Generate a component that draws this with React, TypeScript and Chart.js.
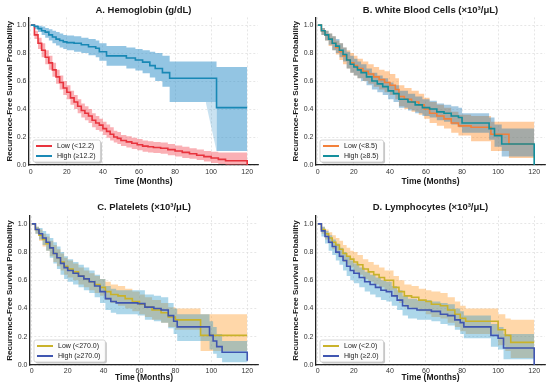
import React, { useEffect, useRef } from 'react';
import { Chart, registerables } from 'chart.js';
Chart.register(...registerables);

const FONT = '"Liberation Sans", Arial, Helvetica, sans-serif';

const xTicks = [0, 20, 40, 60, 80, 100, 120];
const yTicks = [0, 0.2, 0.4, 0.6, 0.8, 1.0];

// ---------- A. Hemoglobin ----------
const hgbLowTime = [0, 2, 4, 6, 8, 10, 12, 14, 16, 18, 20, 22, 24, 26, 28, 30, 32, 34, 36, 38, 40, 42, 44, 46, 48, 50, 53, 56, 59, 62, 65, 68, 72, 76, 80, 84, 88, 92, 96, 100, 104, 108, 120];
const hgbLowSurv = [1.0, 0.93, 0.87, 0.82, 0.77, 0.73, 0.68, 0.63, 0.59, 0.55, 0.52, 0.48, 0.45, 0.42, 0.39, 0.37, 0.35, 0.32, 0.30, 0.285, 0.26, 0.24, 0.22, 0.20, 0.19, 0.175, 0.165, 0.155, 0.145, 0.135, 0.13, 0.125, 0.12, 0.11, 0.10, 0.09, 0.08, 0.07, 0.06, 0.05, 0.04, 0.03, 0.0];
const hgbLowUpper = [1.0, 0.96, 0.91, 0.87, 0.82, 0.78, 0.73, 0.68, 0.64, 0.60, 0.57, 0.53, 0.50, 0.47, 0.44, 0.42, 0.40, 0.37, 0.35, 0.33, 0.31, 0.29, 0.27, 0.245, 0.235, 0.215, 0.205, 0.195, 0.185, 0.175, 0.17, 0.165, 0.16, 0.15, 0.14, 0.13, 0.12, 0.11, 0.10, 0.095, 0.09, 0.09, 0.09];
const hgbLowLower = [1.0, 0.90, 0.83, 0.77, 0.72, 0.68, 0.63, 0.58, 0.54, 0.50, 0.47, 0.43, 0.40, 0.37, 0.34, 0.32, 0.30, 0.27, 0.25, 0.24, 0.215, 0.195, 0.175, 0.16, 0.15, 0.135, 0.125, 0.115, 0.105, 0.095, 0.09, 0.085, 0.08, 0.07, 0.06, 0.05, 0.045, 0.035, 0.025, 0.015, 0.008, 0.0, 0.0];

const hgbHighTime = [0, 2, 4, 6, 8, 10, 12, 14, 16, 18, 20, 24, 28, 32, 36, 38, 42, 53, 58, 62, 66, 69, 73, 77, 103, 120];
const hgbHighSurv = [1.0, 0.99, 0.975, 0.96, 0.95, 0.93, 0.915, 0.90, 0.89, 0.88, 0.875, 0.87, 0.86, 0.845, 0.835, 0.81, 0.78, 0.765, 0.75, 0.735, 0.71, 0.69, 0.66, 0.62, 0.41, 0.41];
const hgbHighUpper = [1.0, 1.0, 0.995, 0.99, 0.98, 0.97, 0.96, 0.95, 0.94, 0.93, 0.925, 0.92, 0.91, 0.90, 0.89, 0.87, 0.85, 0.84, 0.83, 0.82, 0.81, 0.80, 0.78, 0.74, 0.70, 0.70];
const hgbHighLower = [1.0, 0.97, 0.95, 0.93, 0.91, 0.89, 0.87, 0.855, 0.84, 0.83, 0.82, 0.81, 0.80, 0.785, 0.77, 0.745, 0.71, 0.69, 0.675, 0.655, 0.625, 0.60, 0.56, 0.45, 0.10, 0.10];
const hgbHighWedgeTime = [97, 103];
const hgbHighWedgeTop = [0.45, 0.45];
const hgbHighWedgeBottom = [0.45, 0.10];

// ---------- B. White Blood Cells ----------
const wbcLowTime = [0, 2, 4, 6, 8, 10, 12, 14, 16, 18, 20, 22, 25, 28, 31, 34, 37, 40, 43, 45, 48, 52, 56, 59, 62, 66, 70, 74, 78, 85, 96, 106, 120];
const wbcLowSurv = [1.0, 0.96, 0.93, 0.90, 0.87, 0.84, 0.81, 0.78, 0.75, 0.73, 0.71, 0.69, 0.67, 0.65, 0.63, 0.61, 0.59, 0.57, 0.54, 0.49, 0.47, 0.45, 0.43, 0.40, 0.37, 0.35, 0.33, 0.30, 0.28, 0.27, 0.22, 0.15, 0.15];
const wbcLowUpper = [1.0, 0.98, 0.96, 0.94, 0.92, 0.89, 0.87, 0.84, 0.82, 0.80, 0.78, 0.76, 0.74, 0.72, 0.70, 0.68, 0.67, 0.65, 0.62, 0.57, 0.55, 0.53, 0.51, 0.48, 0.45, 0.43, 0.41, 0.38, 0.36, 0.35, 0.31, 0.31, 0.31];
const wbcLowLower = [1.0, 0.93, 0.89, 0.85, 0.82, 0.79, 0.75, 0.72, 0.69, 0.66, 0.64, 0.62, 0.60, 0.58, 0.56, 0.54, 0.52, 0.50, 0.47, 0.42, 0.40, 0.38, 0.36, 0.33, 0.30, 0.28, 0.26, 0.23, 0.21, 0.17, 0.10, 0.05, 0.05];

const wbcHighTime = [0, 2, 4, 6, 8, 10, 12, 14, 16, 18, 20, 22, 24, 27, 30, 33, 36, 39, 42, 45, 50, 54, 58, 62, 66, 70, 74, 78, 80, 95, 98, 102, 120];
const wbcHighSurv = [1.0, 0.96, 0.93, 0.90, 0.87, 0.85, 0.82, 0.79, 0.75, 0.72, 0.70, 0.68, 0.66, 0.63, 0.60, 0.58, 0.56, 0.53, 0.51, 0.47, 0.45, 0.43, 0.41, 0.40, 0.38, 0.37, 0.35, 0.34, 0.30, 0.26, 0.21, 0.15, 0.0];
const wbcHighUpper = [1.0, 0.98, 0.96, 0.94, 0.92, 0.90, 0.87, 0.84, 0.81, 0.78, 0.76, 0.74, 0.72, 0.69, 0.66, 0.64, 0.62, 0.59, 0.57, 0.53, 0.51, 0.49, 0.47, 0.46, 0.44, 0.43, 0.42, 0.41, 0.37, 0.34, 0.29, 0.26, 0.26];
const wbcHighLower = [1.0, 0.93, 0.89, 0.86, 0.82, 0.80, 0.77, 0.74, 0.69, 0.66, 0.64, 0.62, 0.60, 0.57, 0.54, 0.52, 0.50, 0.47, 0.45, 0.41, 0.39, 0.37, 0.35, 0.34, 0.32, 0.31, 0.29, 0.27, 0.23, 0.18, 0.13, 0.06, 0.0];

// ---------- C. Platelets ----------
const pltLowTime = [0, 2, 4, 6, 8, 10, 12, 14, 16, 18, 20, 23, 26, 29, 32, 35, 38, 41, 44, 48, 52, 56, 60, 63, 67, 72, 76, 80, 94, 120];
const pltLowSurv = [1.0, 0.96, 0.92, 0.89, 0.86, 0.83, 0.79, 0.76, 0.73, 0.70, 0.68, 0.66, 0.63, 0.61, 0.59, 0.57, 0.55, 0.52, 0.50, 0.49, 0.47, 0.45, 0.43, 0.41, 0.39, 0.37, 0.34, 0.32, 0.21, 0.21];
const pltLowUpper = [1.0, 0.98, 0.96, 0.93, 0.91, 0.88, 0.85, 0.82, 0.79, 0.76, 0.74, 0.72, 0.69, 0.67, 0.65, 0.63, 0.61, 0.59, 0.57, 0.56, 0.54, 0.52, 0.50, 0.48, 0.46, 0.44, 0.41, 0.40, 0.36, 0.36];
const pltLowLower = [1.0, 0.93, 0.88, 0.84, 0.81, 0.77, 0.73, 0.70, 0.67, 0.64, 0.62, 0.60, 0.57, 0.55, 0.53, 0.51, 0.49, 0.46, 0.44, 0.42, 0.40, 0.38, 0.36, 0.34, 0.32, 0.30, 0.27, 0.25, 0.10, 0.07];

const pltHighTime = [0, 2, 4, 6, 8, 10, 12, 14, 16, 18, 20, 23, 26, 29, 32, 35, 38, 41, 44, 47, 59, 63, 68, 72, 76, 79, 81, 99, 101, 103, 106, 120];
const pltHighSurv = [1.0, 0.96, 0.93, 0.90, 0.87, 0.83, 0.79, 0.76, 0.72, 0.69, 0.67, 0.65, 0.63, 0.61, 0.59, 0.56, 0.52, 0.47, 0.45, 0.44, 0.435, 0.41, 0.40, 0.39, 0.35, 0.31, 0.27, 0.21, 0.17, 0.13, 0.09, 0.03];
const pltHighUpper = [1.0, 0.98, 0.97, 0.95, 0.93, 0.90, 0.87, 0.84, 0.80, 0.77, 0.75, 0.73, 0.71, 0.69, 0.67, 0.64, 0.61, 0.56, 0.54, 0.53, 0.53, 0.50, 0.49, 0.48, 0.44, 0.40, 0.36, 0.31, 0.27, 0.22, 0.17, 0.09];
const pltHighLower = [1.0, 0.93, 0.89, 0.85, 0.81, 0.76, 0.72, 0.68, 0.64, 0.61, 0.59, 0.57, 0.55, 0.53, 0.51, 0.48, 0.44, 0.39, 0.37, 0.36, 0.35, 0.32, 0.31, 0.30, 0.26, 0.22, 0.17, 0.11, 0.08, 0.05, 0.02, 0.0];

// ---------- D. Lymphocytes ----------
const lymLowTime = [0, 2, 4, 6, 8, 10, 12, 14, 16, 18, 20, 22, 25, 28, 31, 34, 37, 42, 45, 48, 52, 56, 60, 63, 68, 72, 76, 79, 82, 100, 104, 107, 120];
const lymLowSurv = [1.0, 0.96, 0.93, 0.90, 0.87, 0.85, 0.82, 0.79, 0.77, 0.75, 0.73, 0.71, 0.68, 0.66, 0.64, 0.62, 0.60, 0.55, 0.52, 0.49, 0.48, 0.46, 0.45, 0.43, 0.42, 0.39, 0.36, 0.33, 0.31, 0.25, 0.21, 0.16, 0.16];
const lymLowUpper = [1.0, 0.98, 0.96, 0.94, 0.92, 0.90, 0.88, 0.85, 0.83, 0.81, 0.80, 0.78, 0.75, 0.73, 0.71, 0.69, 0.67, 0.63, 0.60, 0.57, 0.56, 0.54, 0.53, 0.52, 0.51, 0.48, 0.45, 0.42, 0.40, 0.36, 0.33, 0.32, 0.32];
const lymLowLower = [1.0, 0.93, 0.89, 0.86, 0.82, 0.79, 0.76, 0.73, 0.71, 0.69, 0.66, 0.64, 0.61, 0.59, 0.57, 0.55, 0.53, 0.48, 0.44, 0.41, 0.40, 0.38, 0.36, 0.34, 0.33, 0.30, 0.27, 0.24, 0.22, 0.14, 0.10, 0.05, 0.05];

const lymHighTime = [0, 2, 4, 6, 8, 10, 12, 14, 16, 18, 20, 23, 26, 29, 32, 35, 38, 41, 44, 47, 50, 55, 63, 68, 72, 76, 79, 81, 96, 100, 103, 120];
const lymHighSurv = [1.0, 0.95, 0.91, 0.87, 0.84, 0.80, 0.77, 0.74, 0.70, 0.67, 0.65, 0.62, 0.59, 0.57, 0.55, 0.53, 0.52, 0.49, 0.46, 0.42, 0.40, 0.39, 0.38, 0.36, 0.35, 0.32, 0.30, 0.27, 0.21, 0.19, 0.12, 0.0];
const lymHighUpper = [1.0, 0.98, 0.95, 0.92, 0.89, 0.86, 0.83, 0.80, 0.77, 0.74, 0.72, 0.69, 0.66, 0.64, 0.62, 0.60, 0.59, 0.56, 0.53, 0.49, 0.47, 0.46, 0.45, 0.44, 0.43, 0.40, 0.38, 0.35, 0.29, 0.27, 0.22, 0.22];
const lymHighLower = [1.0, 0.91, 0.86, 0.81, 0.78, 0.74, 0.71, 0.67, 0.63, 0.60, 0.58, 0.55, 0.52, 0.50, 0.48, 0.46, 0.45, 0.42, 0.39, 0.35, 0.33, 0.32, 0.31, 0.29, 0.28, 0.25, 0.22, 0.19, 0.13, 0.11, 0.04, 0.0];

type Curve = { label: string; time: number[]; surv: number[]; upper: number[]; lower: number[]; line: string; band: string };
type Wedge = { time: number[]; top: number[]; bottom: number[]; color: string };
type Box = { left: number; top: number; w: number; h: number; yW: number; xH: number; padRight: number; titleTop: number; titleBottom: number; yTitlePad: number; xTitlePad: number; xTickPad: number };
type Panel = { title: string; curves: Curve[]; wedges: Wedge[]; box: Box };

const panels: Panel[] = [
  {
    title: 'A. Hemoglobin (g/dL)',
    curves: [
      { label: 'Low (<12.2)', time: hgbLowTime, surv: hgbLowSurv, upper: hgbLowUpper, lower: hgbLowLower, line: '#e8333d', band: 'rgba(243,80,90,0.45)' },
      { label: 'High (≥12.2)', time: hgbHighTime, surv: hgbHighSurv, upper: hgbHighUpper, lower: hgbHighLower, line: '#1888b5', band: 'rgba(40,140,200,0.5)' },
    ],
    wedges: [{ time: hgbHighWedgeTime, top: hgbHighWedgeTop, bottom: hgbHighWedgeBottom, color: 'rgba(40,140,200,0.25)' }],
    box: { left: 0, top: 0, w: 275, h: 195, yW: 29, xH: 30, padRight: 17, titleTop: 5, titleBottom: 1, yTitlePad: 5, xTitlePad: 8, xTickPad: 3 },
  },
  {
    title: 'B. White Blood Cells (×10³/μL)',
    curves: [
      { label: 'Low (<8.5)', time: wbcLowTime, surv: wbcLowSurv, upper: wbcLowUpper, lower: wbcLowLower, line: '#f2803a', band: 'rgba(255,127,14,0.4)' },
      { label: 'High (≥8.5)', time: wbcHighTime, surv: wbcHighSurv, upper: wbcHighUpper, lower: wbcHighLower, line: '#138e9c', band: 'rgba(31,119,180,0.4)' },
    ],
    wedges: [],
    box: { left: 275, top: 0, w: 275, h: 195, yW: 41, xH: 30, padRight: 5, titleTop: 5, titleBottom: 1, yTitlePad: 16, xTitlePad: 8, xTickPad: 3 },
  },
  {
    title: 'C. Platelets (×10³/μL)',
    curves: [
      { label: 'Low (<270.0)', time: pltLowTime, surv: pltLowSurv, upper: pltLowUpper, lower: pltLowLower, line: '#c9b22a', band: 'rgba(255,150,30,0.38)' },
      { label: 'High (≥270.0)', time: pltHighTime, surv: pltHighSurv, upper: pltHighUpper, lower: pltHighLower, line: '#3f55b0', band: 'rgba(40,150,200,0.38)' },
    ],
    wedges: [],
    box: { left: 0, top: 195, w: 275, h: 192, yW: 30, xH: 22, padRight: 17, titleTop: 7, titleBottom: 2.7, yTitlePad: 5, xTitlePad: 4, xTickPad: 1.5 },
  },
  {
    title: 'D. Lymphocytes (×10³/μL)',
    curves: [
      { label: 'Low (<2.0)', time: lymLowTime, surv: lymLowSurv, upper: lymLowUpper, lower: lymLowLower, line: '#c9b22a', band: 'rgba(255,150,30,0.38)' },
      { label: 'High (≥2.0)', time: lymHighTime, surv: lymHighSurv, upper: lymHighUpper, lower: lymHighLower, line: '#3f55b0', band: 'rgba(40,150,200,0.38)' },
    ],
    wedges: [],
    box: { left: 275, top: 195, w: 275, h: 192, yW: 41, xH: 22, padRight: 5, titleTop: 7, titleBottom: 2.7, yTitlePad: 16, xTitlePad: 4, xTickPad: 1.5 },
  },
];

const pts = (t: number[], v: number[]) => t.map((x, i) => ({ x, y: v[i] }));

const insideLegend = {
  id: 'insideLegend',
  afterDatasetsDraw(chart: any) {
    const { ctx, chartArea } = chart;
    const items = chart.data.datasets.filter((d: any) => d.kmLine);
    ctx.save();
    ctx.font = `7px ${FONT}`;
    const rowH = 10;
    const padX = 3;
    const lineLen = 16;
    const gap = 5;
    const textW = Math.max(...items.map((d: any) => ctx.measureText(d.label).width));
    const w = padX + lineLen + gap + textW + 5;
    const h = items.length * rowH + 2;
    const x = chartArea.left + 4;
    const y = chartArea.bottom - 3 - h;
    const rr = (ox: number, oy: number) => {
      ctx.beginPath();
      if (ctx.roundRect) ctx.roundRect(ox, oy, w, h, 2);
      else ctx.rect(ox, oy, w, h);
    };
    ctx.fillStyle = 'rgba(0,0,0,0.22)';
    rr(x + 1.5, y + 1.5);
    ctx.fill();
    ctx.fillStyle = 'rgba(255,255,255,0.95)';
    rr(x, y);
    ctx.fill();
    ctx.strokeStyle = '#cccccc';
    ctx.lineWidth = 0.8;
    ctx.stroke();
    items.forEach((d: any, i: number) => {
      const cy = y + 1 + rowH * (i + 0.5);
      ctx.strokeStyle = d.borderColor;
      ctx.lineWidth = 2;
      ctx.beginPath();
      ctx.moveTo(x + padX, cy);
      ctx.lineTo(x + padX + lineLen, cy);
      ctx.stroke();
      ctx.fillStyle = '#222';
      ctx.textBaseline = 'middle';
      ctx.textAlign = 'left';
      ctx.fillText(d.label, x + padX + lineLen + gap, cy + 0.5);
    });
    ctx.restore();
  },
};

function KMPanel({ p }: { p: Panel }) {
  const ref = useRef<HTMLCanvasElement>(null);
  const L = p.box;
  useEffect(() => {
    const datasets: any[] = [];
    // survival step lines (first curve under the second)
    p.curves.forEach((c, i) =>
      datasets.push({
        label: c.label, kmLine: true, data: pts(c.time, c.surv), borderColor: c.line, borderWidth: 1.6,
        stepped: 'before', pointRadius: 0, pointHoverRadius: 0, fill: false, order: 2 - i,
      })
    );
    // confidence bands (first curve's band drawn first, second on top)
    p.curves.forEach((c, i) => {
      const ord = 10 - i;
      datasets.push({ label: '', data: pts(c.time, c.upper), borderColor: 'rgba(0,0,0,0)', borderWidth: 1, stepped: 'before', pointRadius: 0, fill: false, order: ord });
      datasets.push({ label: '', data: pts(c.time, c.lower), borderColor: 'rgba(0,0,0,0)', borderWidth: 1, stepped: 'before', pointRadius: 0, fill: '-1', backgroundColor: c.band, order: ord });
    });
    p.wedges.forEach((wd) => {
      datasets.push({ label: '', data: pts(wd.time, wd.top), borderColor: 'rgba(0,0,0,0)', borderWidth: 1, pointRadius: 0, fill: false, order: 12 });
      datasets.push({ label: '', data: pts(wd.time, wd.bottom), borderColor: 'rgba(0,0,0,0)', borderWidth: 1, pointRadius: 0, fill: '-1', backgroundColor: wd.color, order: 12 });
    });
    const grid = { color: '#dcdcdc', lineWidth: 0.7, drawTicks: false };
    const border = { display: true, color: '#222', width: 1.3, dash: [2, 2] };
    const chart = new Chart(ref.current as HTMLCanvasElement, {
      type: 'line',
      data: { datasets },
      plugins: [insideLegend],
      options: {
        animation: false,
        responsive: false,
        maintainAspectRatio: false,
        events: [],
        layout: { padding: { left: 0, right: L.padRight, top: 0, bottom: 0 } },
        plugins: {
          legend: { display: false },
          tooltip: { enabled: false },
          title: {
            display: true, text: p.title, fullSize: false, color: '#1a1a1a',
            font: { family: FONT, size: 9.5, weight: 'bold' },
            padding: { top: L.titleTop, bottom: L.titleBottom },
          },
        },
        scales: {
          x: {
            type: 'linear', min: -1, max: 126,
            afterBuildTicks: (s: any) => { s.ticks = xTicks.map((v) => ({ value: v })); },
            afterFit: (s: any) => { s.height = L.xH; },
            ticks: { font: { family: FONT, size: 7 }, color: '#333', padding: L.xTickPad, maxRotation: 0, callback: (v: any) => String(v) },
            grid, border,
            title: { display: true, text: 'Time (Months)', color: '#1a1a1a', font: { family: FONT, size: 8.5, weight: 'bold' }, padding: { top: 0, bottom: L.xTitlePad } },
          },
          y: {
            type: 'linear', min: 0, max: 1.055,
            afterBuildTicks: (s: any) => { s.ticks = yTicks.map((v) => ({ value: v })); },
            afterFit: (s: any) => { s.width = L.yW; },
            ticks: { font: { family: FONT, size: 7 }, color: '#333', padding: 2.5, callback: (v: any) => Number(v).toFixed(1) },
            grid, border,
            title: { display: true, text: 'Recurrence-Free Survival Probability', color: '#1a1a1a', font: { family: FONT, size: 8, weight: 'bold' }, padding: { top: L.yTitlePad, bottom: 0 } },
          },
        },
      } as any,
    });
    return () => chart.destroy();
  }, [p]);
  return (
    <canvas
      ref={ref}
      width={L.w}
      height={L.h}
      style={{ position: 'absolute', left: L.left, top: L.top, width: L.w, height: L.h }}
    />
  );
}

export default function App() {
  return (
    <div style={{ position: 'absolute', left: 0, top: 0, width: 550, height: 387, background: '#ffffff' }}>
      {panels.map((p) => (
        <KMPanel key={p.title} p={p} />
      ))}
    </div>
  );
}
